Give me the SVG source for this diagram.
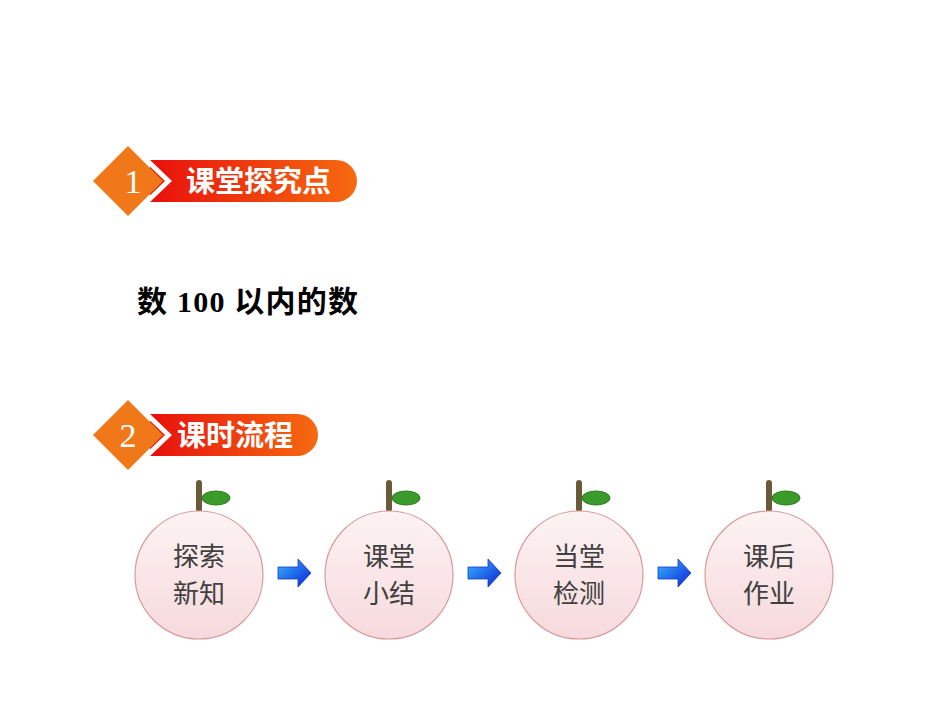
<svg xmlns="http://www.w3.org/2000/svg" width="950" height="713" viewBox="0 0 950 713">
<defs>
<linearGradient id="ban" x1="0" y1="0" x2="1" y2="0"><stop offset="0" stop-color="#e8100c"/><stop offset="1" stop-color="#f66a10"/></linearGradient>
<linearGradient id="app" x1="0" y1="0" x2="0" y2="1"><stop offset="0" stop-color="#fdf3f3"/><stop offset="1" stop-color="#f6d9dd"/></linearGradient>
<linearGradient id="arr" x1="0" y1="0" x2="1" y2="1"><stop offset="0" stop-color="#39b7ff"/><stop offset="1" stop-color="#0a22d8"/></linearGradient>
<style>
.bt{font-family:"Noto Sans CJK SC",sans-serif;font-weight:bold;font-size:29px;fill:#fff}
.num{font-family:"Liberation Serif",serif;font-size:34px;fill:#fff}
.ap{fill:url(#app);stroke:#d99a9e;stroke-width:1.2}
.lab{font-family:"Noto Sans CJK SC",sans-serif;font-size:26px;fill:#404040;text-anchor:middle}
</style>
<g id="apple">
<rect x="-3" y="-95" width="6" height="32" rx="3" fill="#6b5a3a"/>
<ellipse cx="17" cy="-77" rx="14" ry="7" fill="#3a9a2a" stroke="#2d7a20"/>
<circle r="64" class="ap"/>
</g>
<path id="ar" d="M0,-6 H20 V-14 L33,0 L20,14 V6 H0 Z" fill="url(#arr)" stroke="#1a3ac0" stroke-width="0.8"/>
</defs>
<rect width="950" height="713" fill="#fff"/>
<g id="h1">
<path d="M150,160 H336 A21,21 0 0 1 336,202 H150 Z" fill="url(#ban)"/>
<path d="M150,160 L172,181 L150,202 H143 L165,181 L143,160 Z" fill="#fff"/>
<path d="M128,146 L163,181 L128,216 L93,181 Z" fill="#f07818"/>
<text x="133" y="193" class="num" text-anchor="middle">1</text>
<text x="186" y="192" class="bt">课堂探究点</text>
</g>
<g id="h2">
<path d="M150,414 H297 A21,21 0 0 1 297,456 H150 Z" fill="url(#ban)"/>
<path d="M150,414 L172,435 L150,456 H143 L165,435 L143,414 Z" fill="#fff"/>
<path d="M128,400 L163,435 L128,470 L93,435 Z" fill="#f07818"/>
<text x="128" y="447" class="num" text-anchor="middle">2</text>
<text x="177" y="446" class="bt">课时流程</text>
</g>
<text x="137" y="312" font-family="Liberation Serif,'Noto Sans CJK SC',serif" font-weight="bold" font-size="30" fill="#000" textLength="221" lengthAdjust="spacing">数 100 以内的数</text>
<g id="n1"><use href="#apple" x="199" y="575"/><text class="lab" x="199" y="566">探索</text><text class="lab" x="199" y="603">新知</text></g>
<g id="n2"><use href="#apple" x="389" y="575"/><text class="lab" x="389" y="566">课堂</text><text class="lab" x="389" y="603">小结</text></g>
<g id="n3"><use href="#apple" x="579" y="575"/><text class="lab" x="579" y="566">当堂</text><text class="lab" x="579" y="603">检测</text></g>
<g id="n4"><use href="#apple" x="769" y="575"/><text class="lab" x="769" y="566">课后</text><text class="lab" x="769" y="603">作业</text></g>
<g id="connectors">
<use href="#ar" x="278" y="573"/>
<use href="#ar" x="468" y="573"/>
<use href="#ar" x="658" y="573"/>
</g>
</svg>
